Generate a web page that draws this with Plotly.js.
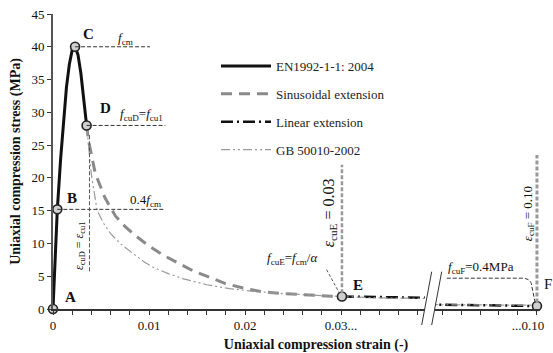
<!DOCTYPE html>
<html><head><meta charset="utf-8">
<script src="https://cdn.plot.ly/plotly-3.0.1.min.js"></script>
<style>html,body{margin:0;padding:0;background:#fff}#chart{width:553px;height:353px}</style>
</head><body><div id="chart"></div>
<script>
// ---- data ----
const seriesNames = ['EN1992-1-1: 2004', 'Sinusoidal extension', 'Linear extension', 'GB 50010-2002'];

const strainEN = [0, 0.00045, 0.0008, 0.0011, 0.0014, 0.0017, 0.0020, 0.0023, 0.0026, 0.0029, 0.0032, 0.0035];
const stressEN = [0, 15.2, 23.0, 29.0, 33.8, 37.3, 39.5, 40.0, 38.8, 36.0, 32.3, 28.0];

const strainSin = [0.0035, 0.0037, 0.0044, 0.0054, 0.0065, 0.0075, 0.0085, 0.0100, 0.0115, 0.0131, 0.0146, 0.0162, 0.0179, 0.0198, 0.0215, 0.0235, 0.0255, 0.0275, 0.0290, 0.0301];
const stressSin = [28.0, 25.7, 20.7, 17.0, 14.2, 12.6, 11.3, 9.6, 8.2, 6.9, 5.8, 4.9, 3.9, 3.2, 2.7, 2.4, 2.2, 2.05, 1.95, 1.9];

const strainLin = [0.0301, 0.10];
const stressLin = [1.9, 0.45];

const strainGB = [0.0035, 0.0040, 0.0046, 0.0053, 0.0060, 0.0070, 0.0082, 0.0094, 0.0104, 0.0120, 0.0136, 0.0160, 0.0184, 0.0209, 0.0240, 0.0270, 0.0300, 0.0340, 0.0390, 0.0900, 0.1000];
const stressGB = [28.0, 20.5, 15.0, 13.0, 11.5, 10.0, 8.6, 7.3, 6.4, 5.4, 4.6, 3.7, 3.1, 2.7, 2.35, 2.1, 1.9, 1.7, 1.5, 0.65, 0.58];

const keyLabels = ['A', 'B', 'C', 'D', 'E', 'F'];
const keyStrain = [0, 0.00045, 0.0023, 0.0035, 0.0301, 0.10];
const keyStress = [0, 15.2, 40, 28, 1.9, 0.45];

const xTickVals1 = [0, 0.01, 0.02, 0.03];
const xTickText1 = ['0', '0.01', '0.02', '0.03...'];
const xMinorVals1 = [0.002, 0.004, 0.006, 0.008, 0.012, 0.014, 0.016, 0.018, 0.022, 0.024, 0.026, 0.028, 0.032, 0.034, 0.036, 0.038];
const xTickVals2 = [0.100];
const xTickText2 = ['...0.10'];
const xMinorVals2 = [0.090, 0.092, 0.094, 0.096, 0.098];
const yTickVals = [0, 5, 10, 15, 20, 25, 30, 35, 40, 45];

// ---- styles ----
const serif = 'Liberation Serif, Times New Roman, serif';
const styles = [
  {color: '#111111', width: 3, dash: 'solid'},
  {color: '#8a8a8a', width: 3, dash: '11px,7px'},
  {color: '#111111', width: 2.5, dash: '12px,4px,2px,4px'},
  {color: '#9a9a9a', width: 1.2, dash: '9px,3px,2px,3px,2px,3px'}
];
const seriesX = [strainEN, strainSin, strainLin, strainGB];
const seriesY = [stressEN, stressSin, stressLin, stressGB];

const traces = [];
seriesNames.forEach((nm, i) => {
  ['x', 'x2'].forEach((ax, k) => {
    traces.push({
      type: 'scatter', mode: 'lines', name: nm,
      x: seriesX[i], y: seriesY[i], xaxis: ax, yaxis: 'y',
      line: styles[i], showlegend: k === 0, legendgroup: 'g' + i,
      hoverinfo: 'skip'
    });
  });
});
// key points
const ptsA = {x: [], y: [], t: []}, ptsB = {x: [], y: [], t: []};
keyStrain.forEach((s, i) => {
  const tgt = s < 0.05 ? ptsA : ptsB;
  tgt.x.push(s); tgt.y.push(keyStress[i]); tgt.t.push(keyLabels[i]);
});
[[ptsA, 'x'], [ptsB, 'x2']].forEach(([p, ax]) => {
  traces.push({
    type: 'scatter', mode: 'markers', x: p.x, y: p.y, text: p.t, xaxis: ax, yaxis: 'y',
    marker: {size: 9, color: '#cfcfcf', line: {color: '#222', width: 1.6}},
    cliponaxis: false, showlegend: false, hoverinfo: 'skip'
  });
});
// empty carrier for the full-width strain axis title
traces.push({type: 'scatter', mode: 'lines', x: [], y: [], xaxis: 'x3', yaxis: 'y', showlegend: false, hoverinfo: 'skip'});

const PX0 = 53, PW = 487, PB = 309, PH = 295;
const px = v => (v - PX0) / PW;
const py = v => (PB - v) / PH;

const dashThin = {color: '#333', width: 1, dash: '4px,2px'};
const shapes = [
  {type: 'line', xref: 'x', yref: 'y', x0: 0.0023, x1: 0.0101, y0: 40, y1: 40, line: dashThin},
  {type: 'line', xref: 'x', yref: 'y', x0: 0.0035, x1: 0.0117, y0: 28, y1: 28, line: dashThin},
  {type: 'line', xref: 'x', yref: 'y', x0: 0.00045, x1: 0.0115, y0: 15.2, y1: 15.2, line: dashThin},
  {type: 'line', xref: 'x', yref: 'y', x0: 0.0038, x1: 0.0038, y0: 26.5, y1: 5.5, line: {color: '#555', width: 1, dash: '4px,2px'}},
  {type: 'line', xref: 'x', yref: 'y', x0: 0.0301, x1: 0.0301, y0: 2.4, y1: 22, line: {color: '#999', width: 2.5, dash: '4px,2px'}},
  {type: 'line', xref: 'x2', yref: 'y', x0: 0.100, x1: 0.100, y0: 1.0, y1: 23.5, line: {color: '#999', width: 3, dash: '4px,2px'}},
  {type: 'line', xref: 'x', yref: 'y', x0: 0.0285, x1: 0.0298, y0: 6.0, y1: 2.5, line: {color: '#555', width: 1, dash: '3px,2px'}},
  {type: 'path', xref: 'x2', yref: 'y', path: 'M0.0905,4.7 L0.0984,4.7 Q0.0992,4.7 0.0994,3.9 L0.0998,1.0', line: {color: '#333', width: 1, dash: '4px,2px'}},
  {type: 'line', xref: 'paper', yref: 'paper', x0: px(421.7), x1: px(431.7), y0: py(325), y1: py(271.7), line: {color: '#333', width: 1}},
  {type: 'line', xref: 'paper', yref: 'paper', x0: px(431.7), x1: px(441.7), y0: py(325), y1: py(271.7), line: {color: '#333', width: 1}}
];

const bold = {family: serif, size: 15, color: '#111'};
const norm = {family: serif, size: 13, color: '#111'};
const ann = (x, y, text, font, extra) => Object.assign({xref: 'x', yref: 'y', x, y, text, showarrow: false, font, xanchor: 'center', yanchor: 'middle'}, extra || {});
const annotations = [
  ann(0.0037, 42.0, '<b>C</b>', bold),
  ann(0.0075, 41.3, '<i>f</i><sub>cm</sub>', norm),
  ann(0.0055, 30.6, '<b>D</b>', bold),
  ann(0.0092, 29.6, '<i>f</i><sub>cuD</sub>=<i>f</i><sub>cu1</sub>', norm),
  ann(0.0020, 16.9, '<b>B</b>', bold),
  ann(0.0096, 16.5, '0.4<i>f</i><sub>cm</sub>', norm),
  ann(0.0018, 1.9, '<b>A</b>', bold),
  ann(0.0318, 3.7, '<b>E</b>', bold),
  ann(0.0028, 9.6, '<i>ε</i><sub>cuD</sub> = <i>ε</i><sub>cu1</sub>', {family: serif, size: 12, color: '#111'}, {textangle: -90}),
  ann(0.02875, 14.6, '<i>ε</i><sub>cuE</sub> = 0.03', {family: serif, size: 16, color: '#111'}, {textangle: -90}),
  ann(0.0249, 7.7, '<i>f</i><sub>cuE</sub>=<i>f</i><sub>cm</sub>/<i>α</i>', norm),
  ann(0.0941, 6.4, '<i>f</i><sub>cuF</sub>=0.4MPa', norm, {xref: 'x2'}),
  ann(0.09905, 14.6, '<i>ε</i><sub>cuF</sub> = 0.10', norm, {xref: 'x2', textangle: -90}),
  {xref: 'paper', yref: 'paper', x: px(548), y: py(284), xanchor: 'center', yanchor: 'middle', text: 'F', showarrow: false, font: {family: serif, size: 15, color: '#111'}}
];

const axBase = {
  showline: true, linecolor: '#333', linewidth: 1.5, ticks: 'outside', ticklen: 4, tickwidth: 1, tickcolor: '#333',
  showgrid: false, zeroline: false, tickfont: {family: serif, size: 13, color: '#111'}, fixedrange: true
};

const layout = {
  width: 553, height: 353,
  margin: {l: 53, r: 13, t: 14, b: 44},
  paper_bgcolor: '#fff', plot_bgcolor: 'rgba(0,0,0,0)',
  font: {family: serif, color: '#111'},
  showlegend: true,
  legend: {x: px(216), y: py(51), xanchor: 'left', yanchor: 'top', bgcolor: 'rgba(0,0,0,0)',
           font: {family: serif, size: 13, color: '#222'}, tracegroupgap: 8, itemwidth: 50},
  xaxis: Object.assign({}, axBase, {domain: [0, px(425)], range: [0, 0.03875], anchor: 'y',
           tickmode: 'array', tickvals: xTickVals1, ticktext: xTickText1,
           minor: {tickmode: 'array', tickvals: xMinorVals1, ticks: 'outside', ticklen: 4, tickcolor: '#333', tickwidth: 1, showgrid: false}}),
  xaxis2: Object.assign({}, axBase, {domain: [px(435), 1], range: [0.08926, 0.10032], anchor: 'y',
           tickmode: 'array', tickvals: xTickVals2, ticktext: xTickText2, ticklabelshift: -9,
           minor: {tickmode: 'array', tickvals: xMinorVals2, ticks: 'outside', ticklen: 4, tickcolor: '#333', tickwidth: 1, showgrid: false}}),
  xaxis3: {domain: [px(92), 1], range: [0, 1], anchor: 'y', showline: false, ticks: '', showticklabels: false,
           showgrid: false, zeroline: false, fixedrange: true,
           title: {text: '<b>Uniaxial compression strain (-)</b>', font: {family: serif, size: 14, color: '#111'}, standoff: 31}},
  yaxis: Object.assign({}, axBase, {range: [0, 45], anchor: 'x', tickmode: 'array', tickvals: yTickVals, linecolor: '#555', linewidth: 2,
           title: {text: '<b>Uniaxial compression stress (MPa)</b>', font: {family: serif, size: 14, color: '#111'}, standoff: 8}}),
  shapes, annotations
};

Plotly.newPlot('chart', traces, layout, {staticPlot: true, displayModeBar: false});
</script></body></html>
